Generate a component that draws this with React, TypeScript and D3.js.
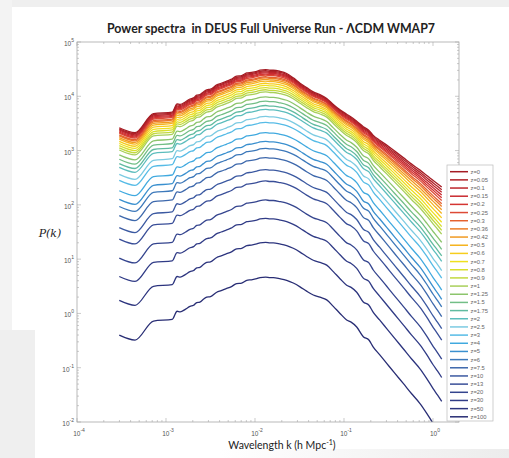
import * as d3 from "d3";

// redshift of each spectrum (legend order)
const redshifts = ["0", "0.05", "0.1", "0.15", "0.2", "0.25", "0.3", "0.36", "0.42", "0.5", "0.6", "0.7", "0.8", "0.9", "1", "1.25", "1.5", "1.75", "2", "2.5", "3", "4", "5", "6", "7.5", "10", "13", "20", "30", "50", "100"];

// log10 P(k) read at the peak (k ~ 0.015) for each redshift
const peakLogP = [4.48, 4.46, 4.44, 4.42, 4.4, 4.38, 4.35, 4.33, 4.3, 4.27, 4.23, 4.19, 4.15, 4.11, 4.07, 3.98, 3.9, 3.82, 3.75, 3.62, 3.51, 3.32, 3.16, 3.03, 2.86, 2.64, 2.43, 2.08, 1.74, 1.3, 0.66];

// log10 P(k) read at the last point (k ~ 1.25) for each redshift
const endLogP = [2.33, 2.28, 2.23, 2.18, 2.13, 2.08, 2.02, 1.97, 1.91, 1.84, 1.76, 1.68, 1.6, 1.53, 1.46, 1.31, 1.18, 1.06, 0.96, 0.79, 0.65, 0.43, 0.26, 0.12, -0.06, -0.28, -0.49, -0.84, -1.18, -1.62, -2.26];

const lineColors = ["#a51c24", "#b02228", "#bd262c", "#c92a30", "#d43532", "#dd4a36", "#e5622f", "#ec7d27", "#f19a22", "#f5b420", "#f6cd1d", "#eee01f", "#d8df2c", "#c3d93f", "#a8cf5a", "#8cc56c", "#72be86", "#60bba0", "#5cbdbd", "#7ccbe2", "#56bbe6", "#40a9df", "#3a90cf", "#3c78ba", "#3d68ac", "#3b59a1", "#394e98", "#34448e", "#303b86", "#2c347e", "#282d74"];

// shared k nodes (log10 k, h/Mpc)
const logK = [-3.525, -3.348, -3.14, -2.93, -2.875, -2.84, -2.78, -2.73, -2.69, -2.655, -2.62, -2.58, -2.543, -2.5, -2.43, -2.38, -2.318, -2.27, -2.206, -2.15, -2.093, -2.04, -1.98, -1.944, -1.88, -1.83, -1.794, -1.72, -1.644, -1.57, -1.494, -1.42, -1.345, -1.27, -1.194, -1.12, -1.045, -0.97, -0.92, -0.857, -0.783, -0.72, -0.671, -0.6, -0.52, -0.43, -0.334, -0.24, -0.146, -0.07, 0.003, 0.05, 0.098];

// linear-regime shape (high-z curve, scaled to z=0 amplitude)
const linShape = [3.42, 3.33, 3.68, 3.71, 3.86, 3.85, 3.9, 3.95, 3.97, 4.02, 4.03, 4.08, 4.12, 4.13, 4.21, 4.24, 4.28, 4.31, 4.37, 4.38, 4.43, 4.44, 4.46, 4.48, 4.49, 4.48, 4.48, 4.46, 4.43, 4.38, 4.31, 4.23, 4.16, 4.12, 4.07, 3.95, 3.82, 3.7, 3.66, 3.57, 3.39, 3.33, 3.2, 3.06, 2.9, 2.72, 2.53, 2.34, 2.16, 1.98, 1.79, 1.68, 1.56];

// z=0 curve as read (non-linear tail)
const nlShape = [3.42, 3.33, 3.68, 3.71, 3.86, 3.85, 3.9, 3.95, 3.97, 4.02, 4.03, 4.08, 4.12, 4.13, 4.21, 4.24, 4.28, 4.31, 4.37, 4.38, 4.43, 4.44, 4.46, 4.48, 4.49, 4.48, 4.48, 4.46, 4.42, 4.34, 4.24, 4.16, 4.08, 4.03, 3.96, 3.85, 3.75, 3.67, 3.62, 3.54, 3.44, 3.37, 3.28, 3.19, 3.1, 2.99, 2.87, 2.75, 2.64, 2.54, 2.45, 2.39, 2.33];

const xTickExps = [-4, -3, -2, -1, 0];
const yTickExps = [5, 4, 3, 2, 1, 0, -1, -2];

const W = 509;
const H = 458;
const plot = { left: 77, right: 459, top: 42, bottom: 422 };
const axisColor = "#a8a8a8";
const labelColor = "#555";

const Pow = ({ x, y, exp, anchor }: { x: number; y: number; exp: number; anchor: string }) => (
  <text x={x} y={y} fontSize={6.5} fill={labelColor} fontFamily="Liberation Sans, Arial" textAnchor={anchor}>
    10
    <tspan dy={-4} fontSize={5}>
      {exp}
    </tspan>
  </text>
);

export default function App() {
  const x = d3.scaleLog().domain([1e-4, 1.96]).range([plot.left, plot.right]);
  const y = d3.scaleLog().domain([1e-2, 1e5]).range([plot.bottom, plot.top]);

  const line = d3
    .line<[number, number]>()
    .x((d) => x(Math.pow(10, d[0])))
    .y((d) => y(Math.pow(10, d[1])))
    .curve(d3.curveMonotoneX);

  const linEnd = linShape[linShape.length - 1];
  const nlEnd = nlShape[nlShape.length - 1];
  const series = redshifts.map((z, i) => {
    const off = peakLogP[i] - peakLogP[0];
    const w = (endLogP[i] - off - linEnd) / (nlEnd - linEnd);
    const pts = logK.map((lk, j) => [lk, linShape[j] + off + w * (nlShape[j] - linShape[j])] as [number, number]);
    return { z, color: lineColors[i], d: line(pts) || "" };
  });

  // minor ticks for both log axes
  const xMinor: number[] = [];
  for (let e = -4; e <= 0; e++) for (let m = 2; m <= 9; m++) if (m * 10 ** e <= 1.96) xMinor.push(m * 10 ** e);
  const yMinor: number[] = [];
  for (let e = -2; e < 5; e++) for (let m = 2; m <= 9; m++) yMinor.push(m * 10 ** e);

  const legX = 447;
  const legY = 165;
  const legStep = 8.17;

  return (
    <div style={{ position: "fixed", left: 0, top: 0 }}>
      <svg width={W} height={H} style={{ display: "block" }}>
        <defs>
          <clipPath id="plotClip">
            <rect x={plot.left} y={plot.top} width={plot.right - plot.left} height={plot.bottom - plot.top} />
          </clipPath>
          <linearGradient id="bottomFade" x1="0" x2="1" y1="0" y2="0">
            <stop offset="0" stopColor="#ffffff" />
            <stop offset="1" stopColor="#ececec" />
          </linearGradient>
        </defs>

        {/* page background */}
        <rect x={0} y={0} width={W} height={H} fill="#fff" />
        <rect x={0} y={0} width={W} height={7} fill="#efefef" />
        <rect x={0} y={0} width={12} height={330} fill="#f3f3f3" />
        <rect x={0} y={330} width={35} height={H - 330} fill="#efefef" />
        <rect x={220} y={449} width={W - 220} height={H - 449} fill="url(#bottomFade)" />

        <text x={271} y={33} fontFamily="Lato, Open Sans, sans-serif" fontWeight="bold" fontSize={12.5} textAnchor="middle" textLength={328} lengthAdjust="spacingAndGlyphs" fill="#222" style={{ whiteSpace: "pre" }}>
          {"Power spectra  in DEUS Full Universe Run - ΛCDM WMAP7"}
        </text>

        {/* curves */}
        <g clipPath="url(#plotClip)">
          {series
            .slice()
            .reverse()
            .map((s) => (
              <path key={s.z} d={s.d} fill="none" stroke={s.color} strokeWidth={1.3} strokeLinejoin="round" />
            ))}
        </g>

        {/* axes box and ticks */}
        <rect x={plot.left} y={plot.top} width={plot.right - plot.left} height={plot.bottom - plot.top} fill="none" stroke={axisColor} strokeWidth={0.8} />
        <g stroke={axisColor} strokeWidth={0.6}>
          {xTickExps.map((e) => {
            const px = x(10 ** e);
            return (
              <g key={"xt" + e}>
                <line x1={px} x2={px} y1={plot.bottom} y2={plot.bottom - 4} />
                <line x1={px} x2={px} y1={plot.top} y2={plot.top + 4} />
              </g>
            );
          })}
          {xMinor.map((v, i) => {
            const px = x(v);
            return (
              <g key={"xm" + i}>
                <line x1={px} x2={px} y1={plot.bottom} y2={plot.bottom - 2} />
                <line x1={px} x2={px} y1={plot.top} y2={plot.top + 2} />
              </g>
            );
          })}
          {yTickExps.map((e) => {
            const py = y(10 ** e);
            return (
              <g key={"yt" + e}>
                <line x1={plot.left} x2={plot.left + 4} y1={py} y2={py} />
                <line x1={plot.right} x2={plot.right - 4} y1={py} y2={py} />
              </g>
            );
          })}
          {yMinor.map((v, i) => {
            const py = y(v);
            return (
              <g key={"ym" + i}>
                <line x1={plot.left} x2={plot.left + 2} y1={py} y2={py} />
                <line x1={plot.right} x2={plot.right - 2} y1={py} y2={py} />
              </g>
            );
          })}
        </g>

        {xTickExps.map((e) => (
          <Pow key={"xl" + e} x={x(10 ** e) + 2} y={plot.bottom + 14} exp={e} anchor="middle" />
        ))}
        {yTickExps.map((e) => (
          <Pow key={"yl" + e} x={74} y={y(10 ** e) + 4} exp={e} anchor="end" />
        ))}

        <text x={50} y={237} fontFamily="DejaVu Serif, Liberation Serif, serif" fontStyle="italic" fontSize={11} textAnchor="middle" fill="#222">
          P(k)
        </text>
        <text x={282} y={449} fontFamily="Lato, Open Sans, sans-serif" fontSize={10.5} textAnchor="middle" fill="#222">
          Wavelength k (h Mpc
          <tspan dy={-4} fontSize={7}>
            -1
          </tspan>
          <tspan dy={4}>)</tspan>
        </text>

        {/* legend */}
        <rect x={legX} y={legY} width={46} height={256} fill="#fff" stroke="#bbb" strokeWidth={0.7} />
        {series.map((s, i) => {
          const ly = legY + 6.7 + i * legStep;
          return (
            <g key={"lg" + s.z}>
              <line x1={legX + 3} x2={legX + 21} y1={ly} y2={ly} stroke={s.color} strokeWidth={1.5} />
              <text x={legX + 23.5} y={ly + 2} fontSize={5.8} fill="#666" fontFamily="Liberation Sans, Arial">
                {"z=" + s.z}
              </text>
            </g>
          );
        })}
      </svg>
    </div>
  );
}
